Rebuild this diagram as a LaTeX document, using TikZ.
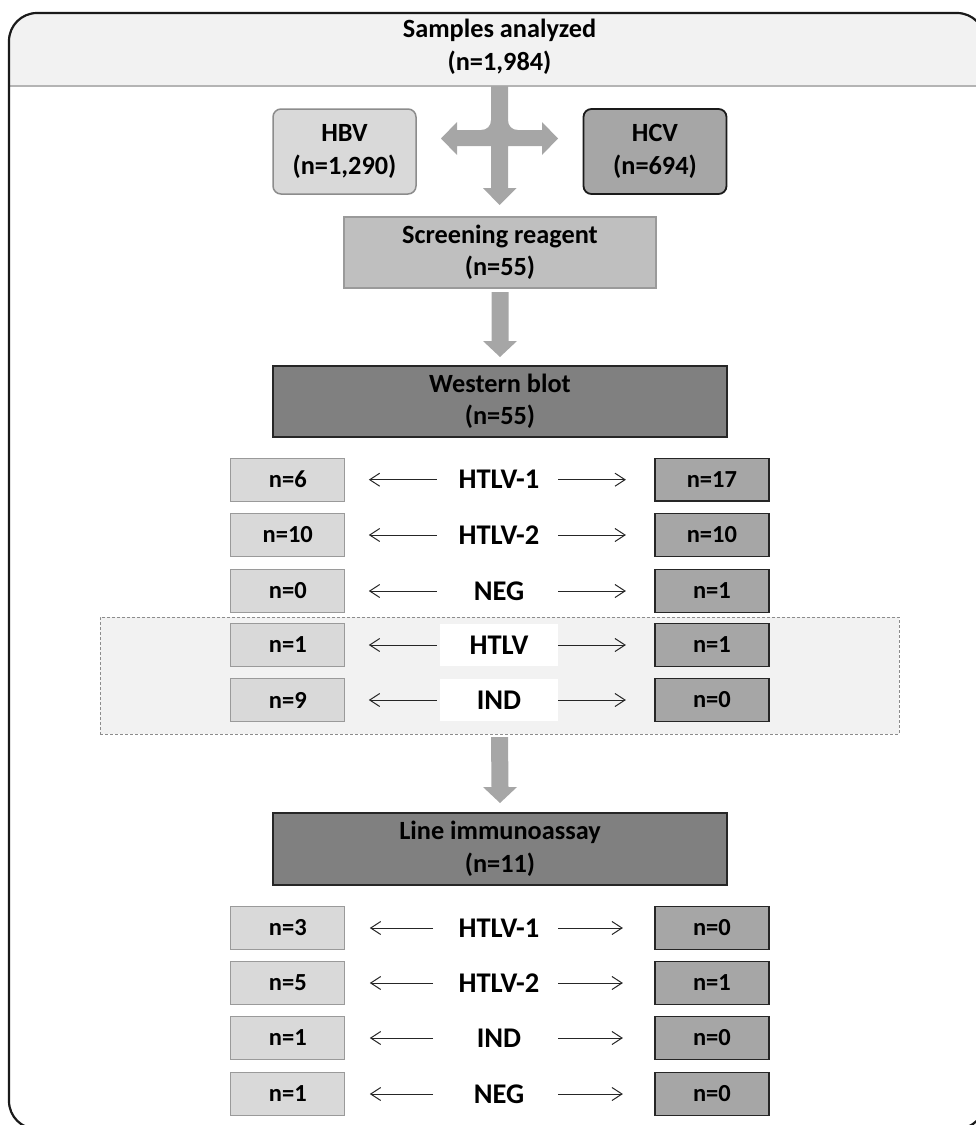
\documentclass[tikz,border=0pt]{standalone}
\usepackage{fontspec}
\setmainfont{Carlito}
\usetikzlibrary{calc,arrows.meta}
\definecolor{headfill}{HTML}{F2F2F2}
\definecolor{headline}{HTML}{B4B4B4}
\definecolor{framecol}{HTML}{1A1A1A}
\definecolor{lightfill}{HTML}{D9D9D9}
\definecolor{lightline}{HTML}{9A9A9A}
\definecolor{midfill}{HTML}{A6A6A6}
\definecolor{darkline}{HTML}{262626}
\definecolor{screenfill}{HTML}{BFBFBF}
\definecolor{darkfill}{HTML}{808080}
\definecolor{arrowfill}{HTML}{A6A6A6}
\definecolor{dashcol}{HTML}{8C8C8C}
\newcommand{\fatarr}[2]{%
  \fill[arrowfill] ($(#1)+(-8.5,0)$) -- ($(#2)+(-8.5,-16)$) -- ($(#2)+(-17,-16)$) -- (#2)
    -- ($(#2)+(17,-16)$) -- ($(#2)+(8.5,-16)$) -- ($(#1)+(8.5,0)$) -- cycle;}
\begin{document}
\begin{tikzpicture}[x=1pt,y=-1pt,
  every node/.style={inner sep=0pt, outer sep=0pt, align=center},
  hfont/.style={font=\fontsize{26.3}{32.5}\selectfont\bfseries},
  lfont/.style={font=\fontsize{28.5}{30}\selectfont\bfseries},
  nfont/.style={font=\fontsize{24.5}{28}\selectfont\bfseries},
  virbox/.style={rounded corners=8pt, minimum width=143pt, minimum height=85pt, hfont},
  bigbox/.style={draw=darkline, fill=darkfill, line width=1.4pt, minimum width=454pt, minimum height=71pt, hfont},
  lbox/.style={draw=lightline, fill=lightfill, line width=1.1pt, minimum width=114pt, minimum height=42.7pt, nfont},
  rbox/.style={draw=darkline, fill=midfill, line width=1.3pt, minimum width=114pt, minimum height=42.7pt, nfont},
  labnode/.style={fill=white, minimum width=118pt, minimum height=42.7pt, lfont},
  thinarr/.style={draw=darkline, line width=1pt, -{Straight Barb[length=10pt,width=13pt]}},
  grpbox/.style={draw=dashcol, fill=headfill, line width=1pt, dash pattern=on 3pt off 2pt, minimum width=799pt, minimum height=117pt}
]
\useasboundingbox (0,0) rectangle (976,1125);
\begin{scope}
  \clip (0,0) rectangle (976,1125);
  \fill[headfill] (9,86) [rounded corners=28pt] -- (9,13) -- (985,13) [sharp corners] -- (985,86) -- cycle;
  \draw[headline, line width=1.5pt] (9,86) -- (985,86);
  \draw[framecol, line width=2.2pt, rounded corners=28pt] (9,13) rectangle (985,1129);
\end{scope}
\node[hfont] (head) at (499.5,47) {Samples analyzed\\(n=1,984)};

% viruses
\node[virbox, draw=dashcol, fill=lightfill, line width=1.5pt] (hbv) at (344.5,151.5) {HBV\\(n=1,290)};
\node[virbox, draw=framecol, fill=midfill, line width=1.8pt] (hcv) at (655,151.5) {HCV\\(n=694)};

% branched arrow from header to screening
\fill[arrowfill] (491,86) -- (491,120) .. controls (491,126) and (487,130) .. (481,130)
  -- (457,130) -- (457,122) -- (441,138.5) -- (457,155) -- (457,146) -- (491,146)
  -- (491,188) -- (483,188) -- (499.5,205) -- (516.5,188) -- (508,188) -- (508,146)
  -- (542,146) -- (542,155) -- (558,138.5) -- (542,122) -- (542,130) -- (518,130)
  .. controls (512,130) and (508,126) .. (508,120) -- (508,86) -- cycle;

\node[draw=lightline, fill=screenfill, line width=1.3pt, minimum width=312pt, minimum height=71pt, hfont] (screen) at (500,252.5) {Screening reagent\\(n=55)};
\node[bigbox] (wb) at (500,401.5) {Western blot\\(n=55)};

\coordinate (a2s) at ($(screen.south)+(0,4)$);
\coordinate (a2e) at ($(wb.north)+(0,-9)$);
\fatarr{a2s}{a2e}

% western blot results
\node[grpbox] (grp) at (499.5,675.5) {};
\foreach \i/\y/\a/\lab/\b in {1/479.7/6/HTLV-1/17, 2/535/10/HTLV-2/10, 3/591/0/NEG/1, 4/645/1/HTLV/1, 5/700/9/IND/0}{
  \node[lbox] (wl\i) at (287.8,\y) {n=\a};
  \node[rbox] (wr\i) at (711.9,\y) {n=\b};
  \node[labnode] (wm\i) at (499,\y) {\lab};
  \draw[thinarr, shorten <=3.5pt, shorten >=24pt] (wm\i.west) -- (wl\i.east);
  \draw[thinarr, shorten >=29pt] (wm\i.east) -- (wr\i.west);
}

\node[bigbox, minimum height=72pt] (lia) at (500,849) {Line immunoassay\\(n=11)};
\coordinate (a3s) at ($(grp.south)+(0,3)$);
\coordinate (a3e) at ($(lia.north)+(0,-10)$);
\fatarr{a3s}{a3e}

% line immunoassay results
\foreach \i/\y/\a/\lab/\b in {1/928/3/HTLV-1/0, 2/983/5/HTLV-2/1, 3/1038/1/IND/0, 4/1094/1/NEG/0}{
  \node[lbox] (ll\i) at (287.8,\y) {n=\a};
  \node[rbox] (lr\i) at (711.9,\y) {n=\b};
  \node[labnode] (lm\i) at (499,\y) {\lab};
  \draw[thinarr, shorten <=7pt, shorten >=25pt] (lm\i.west) -- (ll\i.east);
  \draw[thinarr, shorten >=32pt] (lm\i.east) -- (lr\i.west);
}
\end{tikzpicture}
\end{document}
